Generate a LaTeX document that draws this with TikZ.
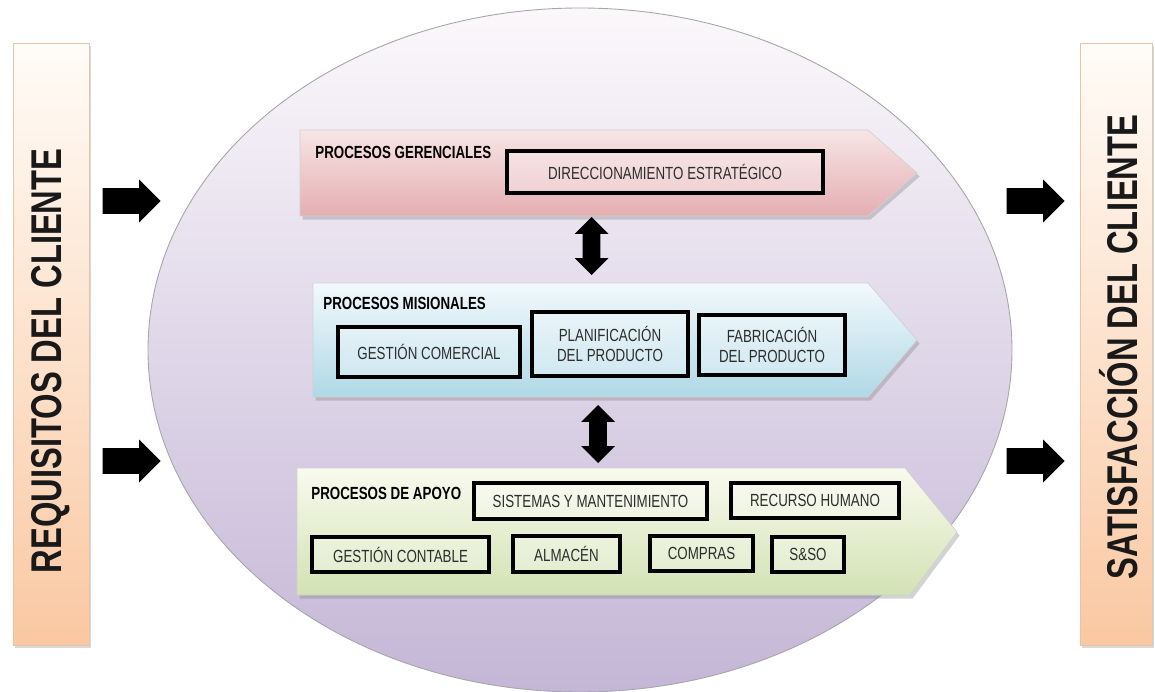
\documentclass[tikz,border=0pt]{standalone}
\usepackage{fontspec}
\newfontfamily\narrowfont[FakeStretch=0.76]{Liberation Sans}
\usetikzlibrary{shapes.arrows,shadows,positioning}

\definecolor{gerTop}{RGB}{247,229,229}
\definecolor{gerBot}{RGB}{228,174,178}
\definecolor{misTop}{RGB}{242,249,252}
\definecolor{misBot}{RGB}{176,216,231}
\definecolor{apoTop}{RGB}{249,250,238}
\definecolor{apoBot}{RGB}{210,226,180}
\definecolor{barTop}{RGB}{255,252,248}
\definecolor{barBot}{RGB}{250,200,162}
\definecolor{barLine}{RGB}{226,196,172}
\definecolor{ovalTop}{RGB}{251,248,251}
\definecolor{ovalMid}{RGB}{232,224,238}
\definecolor{ovalBot}{RGB}{196,182,214}
\definecolor{txtGris}{RGB}{45,45,45}

\begin{document}
\begin{tikzpicture}[x=0.02cm, y=-0.02cm,
    banda/.style={draw=black!18, line width=0.4pt,
        drop shadow={shadow xshift=1.5pt, shadow yshift=-2pt, opacity=0.35}},
    caja/.style={draw=black, line width=1.9pt, fill=white, fill opacity=0.3,
        text opacity=1, text=txtGris, align=center, inner sep=0pt,
        font=\narrowfont\fontsize{10}{11.5}\selectfont},
    titulo/.style={anchor=west, inner sep=0pt,
        font=\narrowfont\bfseries\fontsize{10}{11}\selectfont},
    barra/.style={draw=barLine, top color=barTop, bottom color=barBot,
        minimum height=12.04cm, inner sep=0pt,
        drop shadow={shadow xshift=1pt, shadow yshift=-1.5pt, opacity=0.3}},
    textobarra/.style={rotate=90, text=black!90,
        font=\narrowfont\bfseries\fontsize{24.5}{27}\selectfont},
    flecha/.style={single arrow, fill=black, draw=none, inner xsep=0pt, inner ysep=0.25cm,
        minimum width=0.84cm, minimum height=1.16cm, single arrow head extend=0.17cm,
        anchor=tip},
    doble/.style={double arrow, fill=black, draw=none, inner xsep=0pt, inner ysep=0.17cm,
        rotate=90, minimum width=0.66cm, minimum height=1.16cm,
        double arrow head extend=0.16cm}]

    \useasboundingbox (0,0) rectangle (1155,692);

    % Cliente
    \node[barra, minimum width=1.52cm] (requisitos) at (51,344) {};
    \node[barra, minimum width=1.44cm] (satisfaccion) at (1116,344) {};
    \node[textobarra] at (51,361) {REQUISITOS DEL CLIENTE};
    \node[textobarra] at (1119,347) {SATISFACCIÓN DEL CLIENTE};

    % Mapa de procesos
    \path[draw=black!35, line width=0.5pt, top color=ovalTop, middle color=ovalMid,
        bottom color=ovalBot] (580,350) ellipse [x radius=432, y radius=342];

    % Flechas de entrada y salida
    \node[flecha] (entrada1) at (161,201) {};
    \node[flecha] (entrada2) at (161,461) {};
    \node[flecha] (salida1) at (1065,201) {};
    \node[flecha] (salida2) at (1065,461) {};

    % Procesos gerenciales
    \path[banda, top color=gerTop, bottom color=gerBot]
        (300,130) -- (868,130) -- (917,173) -- (868,216) -- (300,216) -- cycle;
    \node[titulo] (gerenciales) at (315,152) {PROCESOS GERENCIALES};
    \node[caja, minimum width=6.32cm, minimum height=0.84cm] (direccion) at (665,172)
        {DIRECCIONAMIENTO ESTRATÉGICO};

    % Procesos misionales
    \path[banda, top color=misTop, bottom color=misBot]
        (313,283) -- (868,283) -- (917,340) -- (868,397) -- (313,397) -- cycle;
    \node[titulo] (misionales) at (323,303) {PROCESOS MISIONALES};
    \node[caja, minimum width=3.64cm, minimum height=1.0cm] (comercial) at (429,352)
        {GESTIÓN COMERCIAL};
    \node[caja, minimum width=3.12cm, minimum height=1.28cm] (planificacion) at (610,344)
        {PLANIFICACIÓN\\DEL PRODUCTO};
    \node[caja, minimum width=2.92cm, minimum height=1.2cm] (fabricacion) at (772,345)
        {FABRICACIÓN\\DEL PRODUCTO};

    % Procesos de apoyo
    \path[banda, top color=apoTop, bottom color=apoBot]
        (297,468) -- (905,468) -- (957,532) -- (910,595) -- (297,595) -- cycle;
    \node[titulo] (apoyo) at (311,493) {PROCESOS DE APOYO};
    \node[caja, minimum width=4.66cm, minimum height=0.72cm] (sistemas) at (590.5,501)
        {SISTEMAS Y MANTENIMIENTO};
    \node[caja, minimum width=3.36cm, minimum height=0.7cm] (humano) at (815,500.5)
        {RECURSO HUMANO};
    \node[caja, minimum width=3.54cm, minimum height=0.7cm] (contable) at (400.5,554.5)
        {GESTIÓN CONTABLE};
    \node[caja, minimum width=2.14cm, minimum height=0.72cm] (almacen) at (566.5,554)
        {ALMACÉN};
    \node[caja, minimum width=2.06cm, minimum height=0.7cm] (compras) at (701.5,553.5)
        {COMPRAS};
    \node[caja, minimum width=1.44cm, minimum height=0.7cm] (sso) at (808,554.5)
        {S\&SO};

    % Relaciones entre procesos
    \node[doble] (rel1) at (591.5,246) {};
    \node[doble] (rel2) at (598,434) {};

\end{tikzpicture}
\end{document}
